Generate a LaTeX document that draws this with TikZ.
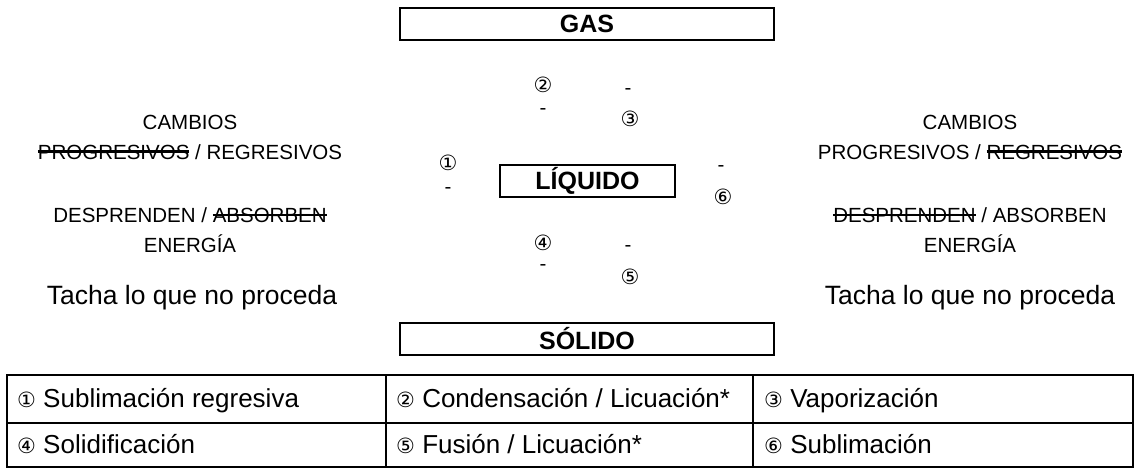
\documentclass[tikz,border=0pt]{standalone}
\usepackage{fontspec}
\setmainfont{Liberation Sans}
\newfontfamily\circfont{DejaVu Sans}
\newsavebox{\tachobox}
\newcommand{\tachado}[1]{\sbox{\tachobox}{#1}\rlap{\rule[0.3em]{\wd\tachobox}{2.5pt}}\usebox{\tachobox}}
\newcommand{\chg}{\fontsize{20.5}{30}\selectfont}
\newcommand{\tch}{\fontsize{26.5}{30}\selectfont}
\newcommand{\cn}[1]{{\circfont\fontsize{21}{21}\selectfont #1}}
\begin{document}
\begin{tikzpicture}[x=1pt, y=-1pt,
    estado/.style={draw, line width=2.8pt, minimum width=374pt, minimum height=32pt, inner sep=0pt, font=\fontsize{25}{25}\selectfont\bfseries},
    num/.style={font=\circfont\fontsize{21}{21}\selectfont, inner sep=0pt},
    raya/.style={font=\circfont\fontsize{19}{19}\selectfont, inner sep=0pt},
    celda/.style={anchor=base west, inner sep=0pt, font=\fontsize{26}{26}\selectfont}]
    \useasboundingbox (0,0) rectangle (1135,468);

    % estados
    \node[estado] (gas) at (587,24) {GAS};
    \node[estado, minimum width=175pt, line width=2pt] (liq) at (587.5,181) {LÍQUIDO};
    \node[estado] (sol) at (587,339) {SÓLIDO};

    % huecos numerados
    \node[num] (n1) at (448,163) {①};
    \node[raya] (d1) at (448,191) {-};
    \node[num] (n2) at (543,85) {②};
    \node[raya] (d2) at (543,112) {-};
    \node[raya] (d3) at (628,92) {-};
    \node[num] (n3) at (630,119) {③};
    \node[num] (n4) at (543,243) {④};
    \node[raya] (d4) at (543,268) {-};
    \node[raya] (d5) at (628,249) {-};
    \node[num] (n5) at (630,277) {⑤};
    \node[raya] (d6) at (721,169) {-};
    \node[num] (n6) at (723,197) {⑥};

    % lado izquierdo
    \node[align=center, font=\chg] (cambiosL) at (190,137) {CAMBIOS\\\tachado{PROGRESIVOS} / REGRESIVOS};
    \node[align=center, font=\chg] (energiaL) at (190,230) {DESPRENDEN / \tachado{ABSORBEN}\\ENERGÍA};
    \node[font=\tch] (tachaL) at (192,298) {Tacha lo que no proceda};

    % lado derecho
    \node[align=center, font=\chg] (cambiosR) at (970,137) {CAMBIOS\\PROGRESIVOS / \tachado{REGRESIVOS}};
    \node[align=center, font=\chg] (energiaR) at (970,230) {\tachado{DESPRENDEN} / ABSORBEN\\ENERGÍA};
    \node[font=\tch] (tachaR) at (970,298) {Tacha lo que no proceda};

    % tabla
    \draw[line width=1.5pt] (7,375) rectangle (1133,467);
    \draw[line width=1.5pt] (7,423) -- (1133,423);
    \draw[line width=1.5pt] (386,375) -- (386,467);
    \draw[line width=1.5pt] (753,375) -- (753,467);
    \node[celda] (t1) at (17,407) {\cn{①} Sublimación regresiva};
    \node[celda] (t2) at (396,407) {\cn{②} Condensación / Licuación*};
    \node[celda] (t3) at (764,407) {\cn{③} Vaporización};
    \node[celda] (t4) at (17,453) {\cn{④} Solidificación};
    \node[celda] (t5) at (396,453) {\cn{⑤} Fusión / Licuación*};
    \node[celda] (t6) at (764,453) {\cn{⑥} Sublimación};
\end{tikzpicture}
\end{document}
